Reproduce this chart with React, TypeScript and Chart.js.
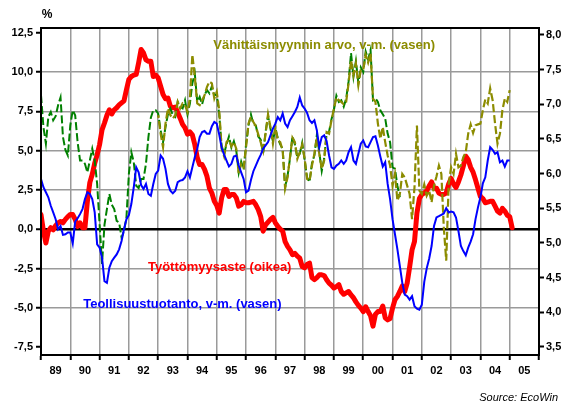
import React, { useEffect, useRef } from 'react';
import { Chart, registerables } from 'chart.js';

Chart.register(...registerables);

const FONT = '"Liberation Sans", Arial, Helvetica, sans-serif';

// Monthly series, first value = January of the start year
const START_YEAR = 1989;
const RETAIL_NEW_START = 1993;

const yearLabels = ['89', '90', '91', '92', '93', '94', '95', '96', '97', '98', '99', '00', '01', '02', '03', '04', '05'];
const leftTicks = [-7.5, -5, -2.5, 0, 2.5, 5, 7.5, 10, 12.5];
const rightTicks = [3.5, 4, 4.5, 5, 5.5, 6, 6.5, 7, 7.5, 8];

// Työttömyysaste (oikea) – right axis
const unemployment = [
  5.41, 5.17, 5.00, 5.17, 5.22, 5.19, 5.25, 5.29, 5.31, 5.29, 5.34, 5.38,
  5.41, 5.41, 5.34, 5.24, 5.29, 5.22, 5.22, 5.60, 5.87, 5.99, 6.15, 6.27,
  6.42, 6.63, 6.73, 6.84, 6.92, 6.86, 6.92, 6.95, 6.99, 7.02, 7.05, 7.21,
  7.36, 7.40, 7.42, 7.43, 7.60, 7.79, 7.74, 7.64, 7.62, 7.62, 7.40, 7.42,
  7.38, 7.26, 7.14, 7.08, 7.09, 6.97, 6.95, 6.96, 6.88, 6.80, 6.71, 6.66,
  6.57, 6.60, 6.56, 6.42, 6.23, 6.13, 6.13, 6.06, 5.96, 5.79, 5.72, 5.60,
  5.54, 5.43, 5.65, 5.77, 5.77, 5.67, 5.70, 5.70, 5.65, 5.53, 5.55, 5.60,
  5.58, 5.58, 5.59, 5.60, 5.55, 5.48, 5.38, 5.17, 5.26, 5.30, 5.34, 5.37,
  5.29, 5.24, 5.20, 5.17, 5.02, 4.95, 4.90, 4.83, 4.85, 4.81, 4.78, 4.66,
  4.64, 4.69, 4.71, 4.50, 4.47, 4.50, 4.54, 4.54, 4.53, 4.47, 4.42, 4.39,
  4.35, 4.37, 4.40, 4.30, 4.26, 4.28, 4.30, 4.25, 4.21, 4.15, 4.10, 4.06,
  4.01, 4.08, 4.01, 3.95, 3.80, 3.97, 4.01, 4.01, 4.09, 3.92, 3.89, 3.91,
  4.06, 4.18, 4.23, 4.30, 4.38, 4.30, 4.42, 4.65, 4.90, 5.02, 5.43, 5.64,
  5.70, 5.72, 5.75, 5.82, 5.88, 5.79, 5.79, 5.72, 5.70, 5.70, 5.72, 5.85,
  5.93, 5.85, 5.80, 5.88, 5.98, 6.11, 6.25, 6.20, 6.09, 6.02, 5.91, 5.79,
  5.67, 5.64, 5.58, 5.59, 5.60, 5.60, 5.53, 5.46, 5.43, 5.50, 5.46, 5.40,
  5.38, 5.22,
];

// Teollisuustuotanto, v-m. (vasen)
const industrialProduction = [
  3.20, 2.67, 2.35, 2.03, 1.49, 1.07, 0.64, 0.00, 0.21, -0.36, -0.32, -0.21,
  -0.21, -0.90, 0.49, 0.70, 0.96, 1.28, 1.92, 2.35, 2.24, 1.92, 1.07, -0.96,
  -1.17, -1.81, -3.30, -3.41, -2.45, -2.03, -1.81, -1.60, -1.28, -0.75, 0.00, 0.64,
  0.90, 1.60, 2.67, 3.94, 3.62, 2.81, 2.56, 2.88, 2.24, 2.13, 2.88, 3.52,
  3.73, 4.69, 4.48, 3.84, 2.88, 2.45, 2.28, 2.45, 2.99, 3.09, 3.13, 3.30,
  3.69, 3.30, 3.94, 4.58, 5.12, 5.86, 6.18, 6.25, 6.08, 6.08, 6.55, 6.82,
  6.72, 6.03, 5.18, 4.75, 4.37, 3.99, 4.16, 4.63, 4.69, 4.05, 3.62, 3.20,
  2.35, 2.45, 3.13, 3.69, 4.05, 4.41, 4.73, 5.12, 5.33, 5.54, 5.97, 6.40,
  6.72, 7.14, 6.93, 7.36, 6.72, 6.50, 6.93, 7.19, 7.46, 7.78, 8.38, 7.87,
  7.68, 7.40, 6.93, 6.76, 6.93, 6.29, 5.22, 5.86, 5.97, 5.61, 4.69, 3.94,
  3.84, 4.05, 4.16, 4.37, 4.16, 4.37, 4.90, 5.22, 4.37, 4.16, 4.80, 5.44,
  5.65, 5.27, 5.22, 5.54, 5.86, 5.91, 5.33, 4.63, 3.99, 4.26, 2.88, 1.92,
  0.64, -0.32, -1.28, -2.35, -3.41, -4.16, -4.26, -4.48, -4.26, -4.90, -5.05, -5.12,
  -4.80, -3.35, -2.49, -1.88, -1.07, 0.21, 0.75, 0.83, 0.92, 1.00, 1.34, 1.07,
  1.13, 1.07, 0.75, -0.11, -1.07, -1.39, -1.66, -1.17, -0.79, -0.32, 0.64, 1.39,
  2.03, 2.92, 3.30, 4.37, 5.22, 5.05, 4.80, 4.90, 4.26, 4.37, 3.99, 4.37,
  4.37,
];

// Vähittäismyynnin arvo, v-m. (vasen) – older series (green)
const retailOld = [
  8.53, 6.50, 5.44, 7.14, 7.46, 6.93, 7.19, 7.89, 8.38, 5.86, 5.05, 4.69,
  6.61, 7.57, 7.25, 5.54, 4.37, 4.37, 4.16, 3.62, 4.37, 5.12, 4.37, 2.88,
  0.32, -2.20, 0.28, 1.28, 2.24, 1.56, 1.28, 0.53, 0.43, -0.53, -0.11, 0.75,
  3.52, 4.90, 4.26, 2.77, 2.62, 3.20, 3.20, 4.16, 5.86, 7.10, 7.57, 7.57,
  7.36, 6.29, 5.54, 6.50, 7.31, 7.68, 7.25, 7.14, 8.10, 7.78, 7.68, 8.21,
  7.31, 8.00, 9.28, 9.91, 8.10, 8.42, 7.95, 8.53, 8.85, 8.64, 9.10, 8.50,
  8.60, 7.30, 5.30, 4.80, 5.40, 5.90, 5.20, 5.60, 5.00, 3.60, 4.30, 3.80,
  5.40, 6.60, 7.30, 6.70, 6.60, 5.90, 5.70, 4.80, 6.20, 7.20, 6.40, 5.60,
  6.40, 5.80, 5.40, 5.10, 2.70, 3.40, 4.50, 5.90, 5.40, 4.60, 4.80, 5.50,
  4.40, 3.30, 3.00, 4.20, 4.70, 6.00, 4.90, 3.70, 4.50, 6.10, 6.20, 7.00,
  7.60, 8.50, 8.10, 8.20, 7.80, 8.30, 9.40, 11.20, 9.70, 10.70, 9.30, 10.30,
  10.00, 11.30, 10.80, 11.40, 8.21, 8.32, 8.10, 7.57, 7.31, 7.04, 6.08, 5.54,
  3.94, 3.84, 2.77, 2.03,
];

// Vähittäismyynnin arvo, v-m. (vasen) – newer series (olive), from 1993
const retailNew = [
  7.25, 6.08, 5.22, 6.72, 7.68, 7.25, 7.04, 7.25, 8.10, 7.68, 8.00, 7.89,
  7.46, 8.32, 11.10, 9.70, 8.00, 7.89, 8.21, 8.53, 9.06, 9.38, 9.28, 8.32,
  8.74, 7.57, 5.12, 4.63, 5.54, 5.69, 5.27, 5.54, 5.12, 3.52, 4.16, 3.94,
  5.22, 6.72, 7.14, 6.82, 6.55, 6.03, 5.54, 4.97, 6.08, 7.31, 6.50, 5.44,
  6.50, 5.65, 5.54, 5.01, 2.60, 3.30, 4.58, 5.82, 5.54, 4.48, 4.90, 5.39,
  4.48, 3.20, 3.09, 4.05, 4.80, 5.86, 4.80, 3.84, 4.37, 6.18, 6.08, 6.93,
  7.68, 8.38, 8.21, 8.10, 7.95, 8.10, 9.28, 10.77, 9.81, 10.55, 9.17, 10.13,
  10.13, 11.09, 10.60, 11.20, 8.30, 8.10, 6.72, 5.76, 6.50, 5.54, 4.69, 4.05,
  2.77, 3.52, 1.81, 2.24, 3.52, 3.30, 2.77, 2.24, 0.64, 2.67, 6.60, 2.45,
  2.24, 2.84, 2.13, 2.45, 1.71, 2.77, 3.35, 4.05, 3.52, 0.11, -2.00, 2.88,
  3.94, 3.52, 4.80, 3.94, 4.05, 4.58, 4.90, 6.08, 6.67, 6.12, 6.61, 6.67,
  6.72, 7.57, 8.25, 8.00, 8.96, 8.21, 6.72, 5.44, 6.08, 7.57, 8.32, 8.10,
  8.85,
];

const RED = '#ff0000';
const BLUE = '#0000ff';
const GREEN = '#008000';
const OLIVE = '#8c8c00';
const GRID = '#9a9a9a';

const annotations = [
  { text: 'Vähittäismyynnin arvo, v-m. (vasen)', color: OLIVE, x: 1994.88, y: 11.72 },
  { text: 'Työttömyysaste (oikea)', color: RED, x: 1992.65, y: -2.46 },
  { text: 'Teollisuustuotanto, v-m. (vasen)', color: BLUE, x: 1990.44, y: -4.8 },
];

function toPoints(values: number[], start: number) {
  return values.map((v, i) => ({ x: start + i / 12, y: v }));
}

const fmt = (v: number) => v.toFixed(1).replace('.', ',');

const decorPlugin = {
  id: 'decor',
  afterDraw(chart: any) {
    const { ctx, chartArea, scales } = chart;
    ctx.save();
    ctx.strokeStyle = '#000';
    ctx.lineWidth = 2;
    ctx.strokeRect(chartArea.left, chartArea.top, chartArea.right - chartArea.left, chartArea.bottom - chartArea.top);

    ctx.textBaseline = 'middle';
    ctx.textAlign = 'left';
    ctx.font = `bold 13px ${FONT}`;
    for (const a of annotations) {
      ctx.fillStyle = a.color;
      ctx.fillText(a.text, scales.x.getPixelForValue(a.x), scales.y.getPixelForValue(a.y));
    }

    ctx.fillStyle = '#000';
    ctx.textAlign = 'center';
    ctx.font = `bold 12px ${FONT}`;
    ctx.fillText('%', chartArea.left + 6, chartArea.top - 13);

    ctx.textAlign = 'right';
    ctx.textBaseline = 'alphabetic';
    ctx.font = `italic 11px ${FONT}`;
    ctx.fillText('Source: EcoWin', chart.width - 18, chart.height - 4);
    ctx.restore();
  },
};

export default function App() {
  const canvasRef = useRef<HTMLCanvasElement | null>(null);

  useEffect(() => {
    document.body.style.margin = '0';
    const canvas = canvasRef.current;
    if (!canvas) return;
    const tickFont = { family: FONT, size: 11, weight: 'bold' as const };

    const chart = new Chart(canvas, {
      type: 'line',
      data: {
        datasets: [
          {
            label: 'Teollisuustuotanto, v-m. (vasen)',
            data: toPoints(industrialProduction, START_YEAR),
            borderColor: BLUE,
            borderWidth: 2,
            pointRadius: 0,
            yAxisID: 'y',
            order: 0,
          },
          {
            label: 'Vähittäismyynnin arvo (uusi)',
            data: toPoints(retailNew, RETAIL_NEW_START),
            borderColor: OLIVE,
            borderWidth: 2.2,
            borderDash: [8, 3],
            borderDashOffset: 5,
            pointRadius: 0,
            yAxisID: 'y',
            order: 1,
          },
          {
            label: 'Vähittäismyynnin arvo (vanha)',
            data: toPoints(retailOld, START_YEAR),
            borderColor: GREEN,
            borderWidth: 2,
            borderDash: [8, 3],
            pointRadius: 0,
            yAxisID: 'y',
            order: 2,
          },
          {
            label: 'Työttömyysaste (oikea)',
            data: toPoints(unemployment, START_YEAR),
            borderColor: RED,
            borderWidth: 5,
            borderJoinStyle: 'round',
            borderCapStyle: 'round',
            pointRadius: 0,
            yAxisID: 'y1',
            order: 3,
          },
        ],
      },
      options: {
        responsive: false,
        devicePixelRatio: 1,
        animation: false,
        layout: { padding: { top: 28, bottom: 10, left: 0, right: 0 } },
        plugins: { legend: { display: false }, tooltip: { enabled: false } },
        scales: {
          x: {
            type: 'linear',
            min: 1989,
            max: 2006,
            afterBuildTicks: (axis: any) => {
              const t = [];
              for (let yr = 1989; yr <= 2006; yr++) t.push({ value: yr });
              axis.ticks = t;
            },
            afterFit: (scale: any) => { scale.height = 40; },
            ticks: {
              autoSkip: false,
              maxRotation: 0,
              labelOffset: 14.6,
              padding: 4,
              color: '#000',
              font: tickFont,
              callback: (v: any) => {
                const i = Math.round(Number(v)) - 1989;
                return i >= 0 && i < yearLabels.length ? yearLabels[i] : '';
              },
            },
            grid: { color: GRID, lineWidth: 1.5, tickLength: 5, tickColor: '#000', tickWidth: 2 },
            border: { display: true, color: '#000', width: 2 },
          },
          y: {
            type: 'linear',
            position: 'left',
            min: -8.0,
            max: 12.8,
            afterBuildTicks: (axis: any) => { axis.ticks = leftTicks.map((v) => ({ value: v })); },
            afterFit: (scale: any) => { scale.width = 41; },
            ticks: { color: '#000', font: tickFont, padding: 3, callback: (v: any) => fmt(Number(v)) },
            grid: {
              color: (c: any) => {
                const v = c.tick ? c.tick.value : null;
                if (v === 0) return '#000';
                if (v === 12.5 || v === -7.5) return 'rgba(0,0,0,0)';
                return GRID;
              },
              lineWidth: (c: any) => (c.tick && c.tick.value === 0 ? 2.5 : 1.5),
              tickLength: 5,
              tickColor: '#000',
              tickWidth: 2,
            },
            border: { display: true, color: '#000', width: 2 },
          },
          y1: {
            type: 'linear',
            position: 'right',
            min: 3.384,
            max: 8.1,
            afterBuildTicks: (axis: any) => { axis.ticks = rightTicks.map((v) => ({ value: v })); },
            afterFit: (scale: any) => { scale.width = 37; },
            ticks: { color: '#000', font: tickFont, padding: 2, callback: (v: any) => fmt(Number(v)) },
            grid: { drawOnChartArea: false, tickLength: 5, tickColor: '#000', tickWidth: 2 },
            border: { display: true, color: '#000', width: 2 },
          },
        },
      },
      plugins: [decorPlugin],
    } as any);

    return () => chart.destroy();
  }, []);

  return (
    <div style={{ position: 'absolute', left: 0, top: 0, width: 576, height: 405, background: '#fff' }}>
      <canvas ref={canvasRef} width={576} height={405} style={{ display: 'block' }} />
    </div>
  );
}
